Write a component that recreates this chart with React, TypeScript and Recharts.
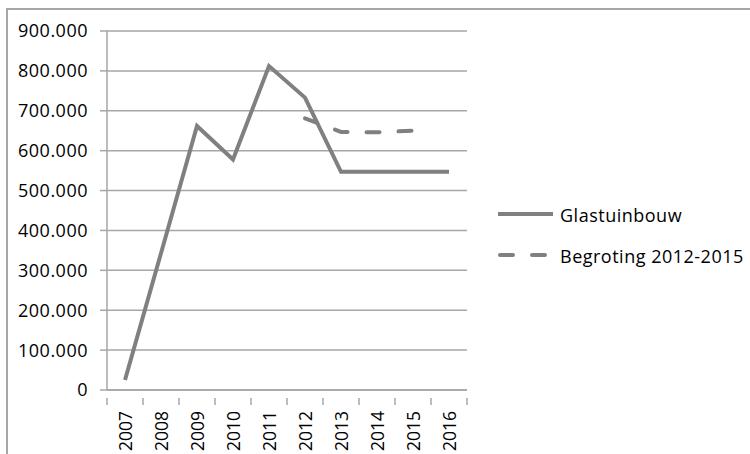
import React from "react";
import { LineChart, Line, XAxis, YAxis, CartesianGrid } from "recharts";

const years = ["2007", "2008", "2009", "2010", "2011", "2012", "2013", "2014", "2015", "2016"];
const glastuinbouw = [25000, 343000, 662000, 578000, 812000, 733000, 547000, 547000, 547000, 547000];
const begroting = [null, null, null, null, null, 681000, 647000, 646000, 650000, null];
const yTicks = [0, 100000, 200000, 300000, 400000, 500000, 600000, 700000, 800000, 900000];

const data = years.map((year, i) => ({
  year,
  Glastuinbouw: glastuinbouw[i],
  Begroting: begroting[i],
}));

const FONT = "'Open Sans', sans-serif";
const LINE = "#808080";
const GRID = "#a6a6a6";
const HALF_BAND = 18;
const textStyle = { fontFamily: FONT, fontSize: 18, letterSpacing: 0.5, fill: "#000" };

function formatY(v: number) {
  if (v === 0) return "0";
  return `${Math.round(v / 1000)}.000`;
}

function YearTick(props: any) {
  const { x, y, payload, index } = props;
  const last = index === years.length - 1;
  return (
    <g>
      <line x1={x - HALF_BAND} y1={y} x2={x - HALF_BAND} y2={y + 7} stroke={GRID} strokeWidth={1.5} />
      {last && <line x1={x + HALF_BAND} y1={y} x2={x + HALF_BAND} y2={y + 7} stroke={GRID} strokeWidth={1.5} />}
      <text
        transform={`translate(${x + 7},${y + 13}) rotate(-90)`}
        textAnchor="end"
        {...textStyle}
        fontSize={17.5}
        letterSpacing={0}
      >
        {payload.value}
      </text>
    </g>
  );
}

function ChartLegend() {
  return (
    <svg width={250} height={80} style={{ position: "absolute", left: 496, top: 200 }}>
      <line x1={2} y1={14} x2={57} y2={14} stroke={LINE} strokeWidth={4} />
      <text x={64} y={22} {...textStyle}>Glastuinbouw</text>
      <line x1={4} y1={55} x2={57} y2={55} stroke={LINE} strokeWidth={4} strokeDasharray="13 19" strokeLinecap="round" />
      <text x={64} y={63} {...textStyle}>Begroting 2012-2015</text>
    </svg>
  );
}

export default function App() {
  return (
    <div style={{ position: "absolute", left: 0, top: 0, width: 750, height: 454, overflow: "hidden", background: "#fff" }}>
      <div
        style={{
          position: "absolute",
          left: 6,
          top: 8,
          width: 800,
          height: 500,
          borderLeft: `2px solid ${GRID}`,
          borderTop: `2px solid ${GRID}`,
        }}
      />
      <div style={{ position: "absolute", left: 0, top: 0 }}>
        <LineChart width={750} height={454} data={data} margin={{ top: 31, right: 283, bottom: 0, left: 0 }}>
          <CartesianGrid vertical={false} stroke={GRID} strokeWidth={1.5} />
          <XAxis
            dataKey="year"
            height={64}
            padding={{ left: HALF_BAND, right: HALF_BAND }}
            axisLine={{ stroke: GRID, strokeWidth: 1.5 }}
            tickLine={false}
            tick={<YearTick />}
            interval={0}
          />
          <YAxis
            width={107}
            domain={[0, 900000]}
            ticks={yTicks}
            tickFormatter={formatY}
            axisLine={{ stroke: GRID, strokeWidth: 1.5 }}
            tickLine={{ stroke: GRID, strokeWidth: 1.5 }}
            tickSize={7}
            tickMargin={12}
            tick={textStyle}
          />
          <Line dataKey="Glastuinbouw" stroke={LINE} strokeWidth={4} dot={false} isAnimationActive={false} />
          <Line
            dataKey="Begroting"
            stroke={LINE}
            strokeWidth={4}
            strokeDasharray="13 19"
            strokeLinecap="round"
            dot={false}
            isAnimationActive={false}
          />
        </LineChart>
      </div>
      <ChartLegend />
    </div>
  );
}
